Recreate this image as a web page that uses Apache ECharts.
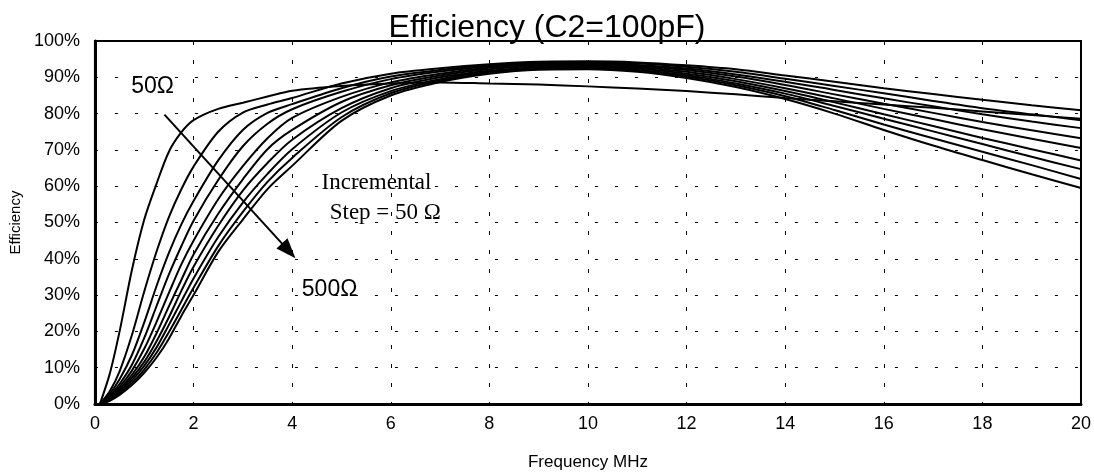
<!DOCTYPE html>
<html><head><meta charset="utf-8">
<script src="https://cdn.jsdelivr.net/npm/echarts@6/dist/echarts.min.js"></script>
<style>html,body{margin:0;padding:0;background:#fff}#c{width:1094px;height:476px}</style>
</head><body><div id="c"></div>
<script>
// ---- data ----
const titleText = 'Efficiency (C2=100pF)';
const xAxisName = 'Frequency MHz';
const yAxisName = 'Efficiency';
const xTicks = [0, 2, 4, 6, 8, 10, 12, 14, 16, 18, 20];
const yTicks = [0, 10, 20, 30, 40, 50, 60, 70, 80, 90, 100];
const freq = [0.1, 0.3, 0.5, 0.75, 1, 1.25, 1.5, 1.75, 2, 2.5, 3, 3.5, 4, 5, 6, 7, 8, 9, 10, 11, 12, 13, 14, 15, 16, 17, 18, 19, 20];
const loads = ['50Ω', '100Ω', '150Ω', '200Ω', '250Ω', '300Ω', '350Ω', '400Ω', '450Ω', '500Ω'];
const eff050 = [0, 8.3, 20, 36.9, 50.8, 60.7, 69.5, 74.8, 78.2, 81.3, 83, 84.7, 86.3, 87.6, 88.3, 88.6, 88.3, 88, 87.5, 86.9, 86.2, 85.3, 84.3, 83.4, 82.5, 81.6, 80.6, 79.6, 78.6];
const eff100 = [0, 3.5, 9.0, 19.0, 31.0, 42.0, 51.5, 59.1, 65.4, 75, 80.3, 82.5, 84.3, 88.3, 91, 92.5, 93.6, 94.3, 94.4, 94.1, 93.3, 92.2, 90.5, 88.8, 87, 85.4, 83.8, 82.3, 80.9];
const eff150 = [0, 2.8, 6.8, 13.5, 22.5, 32.5, 41.6, 49.4, 55.9, 67.1, 75.5, 80.2, 82.6, 87, 90.2, 92, 93.3, 94, 94.1, 93.8, 92.9, 91.5, 89.6, 87.6, 85.6, 83.5, 81.5, 79.8, 78.2];
const eff200 = [0, 2.3, 5.5, 10.8, 18.2, 27.0, 35.7, 43.4, 50.5, 61.7, 71, 77.2, 81.2, 86, 89.5, 91.6, 93, 93.7, 93.8, 93.4, 92.4, 90.8, 88.8, 86.5, 84.2, 82, 79.8, 77.8, 76];
const eff250 = [0, 2.0, 4.7, 9.2, 15.2, 22.6, 30.6, 38.4, 45, 56.4, 65.5, 73.2, 78.8, 84.6, 88.6, 91, 92.6, 93.4, 93.5, 93.1, 92, 90.2, 87.9, 85.3, 82.7, 80.2, 77.7, 75.4, 73.2];
const eff300 = [0, 1.7, 4.1, 8.0, 13.0, 19.5, 26.9, 34.1, 41.2, 52.4, 61.9, 70.2, 75.5, 83.2, 87.8, 90.5, 92.2, 93.1, 93.2, 92.8, 91.5, 89.5, 87, 84.2, 81.3, 78.5, 75.7, 73.1, 70.5];
const eff350 = [0, 1.5, 3.7, 7.2, 11.6, 17.3, 23.9, 31.1, 37.8, 49.1, 58.8, 66.4, 72.8, 81.5, 87, 90, 91.8, 92.8, 92.9, 92.4, 91, 88.9, 86.2, 83.1, 79.8, 76.6, 73.3, 70.2, 67.1];
const eff400 = [0, 1.3, 3.3, 6.5, 10.5, 15.6, 21.8, 28.2, 34.6, 46, 55.5, 63.4, 70.2, 80.3, 86.2, 89.5, 91.5, 92.5, 92.6, 92, 90.6, 88.3, 85.5, 82.1, 78.6, 75.1, 71.6, 68.1, 64.7];
const eff450 = [0, 1.1, 2.9, 5.8, 9.5, 14.1, 19.8, 25.9, 32, 43.5, 52.9, 61.2, 67.8, 79, 85.6, 89.1, 91.2, 92.3, 92.4, 91.8, 90.2, 87.8, 84.8, 81, 77, 73.2, 69.5, 65.8, 62];
const eff500 = [0, 0.9, 2.5, 5.2, 8.6, 12.8, 18.0, 24.2, 30, 41.9, 50.8, 59.2, 65.6, 78, 85, 88.7, 91, 92.1, 92.2, 91.5, 89.8, 87.3, 84, 80, 75.5, 71.2, 67.2, 63.3, 59.5];
const curves = [eff050, eff100, eff150, eff200, eff250, eff300, eff350, eff400, eff450, eff500];
const noteTop = '50Ω';
const noteBottom = '500Ω';
const noteStep1 = 'Incremental';
const noteStep2 = 'Step = 50 Ω';

// ---- chart ----
const SANS = "'Liberation Sans', Arial, sans-serif";
const SERIF = "'Liberation Serif', 'Times New Roman', serif";
const chart = echarts.init(document.getElementById('c'), null, {renderer: 'canvas'});

const lineSeries = curves.map((vals, i) => ({
  name: loads[i],
  type: 'line',
  data: freq.map((f, k) => [f, vals[k]]),
  showSymbol: false,
  smooth: 0.3,
  lineStyle: {color: '#000', width: 2},
  z: 3,
  silent: true
}));

const arrowSeries = {
  type: 'line',
  data: [],
  silent: true,
  markLine: {
    silent: true,
    symbol: ['none', 'triangle'],
    symbolSize: [15, 20],
    label: {show: false},
    lineStyle: {color: '#000', width: 2, type: 'solid'},
    itemStyle: {color: '#000'},
    data: [[{coord: [1.41, 79.7]}, {coord: [3.93, 42.2]}]]
  }
};

chart.setOption({
  animation: false,
  backgroundColor: '#fff',
  title: {
    text: titleText, left: 'center', top: 7,
    textStyle: {fontFamily: SANS, fontSize: 32, fontWeight: 'normal', color: '#000'}
  },
  grid: {left: 90, right: 12, top: 41, bottom: 65, show: true, borderColor: '#000', borderWidth: 2, backgroundColor: 'transparent'},
  xAxis: {
    type: 'value', min: xTicks[0], max: xTicks[xTicks.length - 1], interval: xTicks[1] - xTicks[0],
    name: xAxisName, nameLocation: 'middle', nameGap: 50,
    nameTextStyle: {fontFamily: SANS, fontSize: 17, color: '#000'},
    axisLine: {show: true, onZero: false, lineStyle: {color: '#000', width: 3}},
    axisTick: {show: false},
    axisLabel: {fontFamily: SANS, fontSize: 18, color: '#000', margin: 11},
    splitLine: {show: true, lineStyle: {color: '#000', width: 1, type: [4, 15]}}
  },
  yAxis: {
    type: 'value', min: yTicks[0], max: yTicks[yTicks.length - 1], interval: yTicks[1] - yTicks[0],
    name: yAxisName, nameLocation: 'middle', nameGap: 60, nameRotate: 90,
    nameTextStyle: {fontFamily: SANS, fontSize: 15, color: '#000'},
    axisLine: {show: true, onZero: false, lineStyle: {color: '#000', width: 3}},
    axisTick: {show: false},
    axisLabel: {fontFamily: SANS, fontSize: 18, color: '#000', margin: 15, formatter: v => v + '%'},
    splitLine: {show: true, lineStyle: {color: '#000', width: 1, type: [3, 17]}}
  },
  series: lineSeries.concat([arrowSeries])
});

// text notes anchored to data coordinates
const notes = [
  {text: noteTop, at: [1.17, 87.3], font: SANS},
  {text: noteBottom, at: [4.76, 31.6], font: SANS},
  {text: noteStep1, at: [5.71, 61.0], font: SERIF},
  {text: noteStep2, at: [5.89, 52.6], font: SERIF}
];
chart.setOption({
  graphic: notes.map(n => {
    const p = chart.convertToPixel({gridIndex: 0}, n.at);
    return {
      type: 'text', x: p[0], y: p[1], z: 10, silent: true,
      style: {text: n.text, fill: '#000', font: '23px ' + n.font, textAlign: 'center', textVerticalAlign: 'middle'}
    };
  })
});
</script>
</body></html>
